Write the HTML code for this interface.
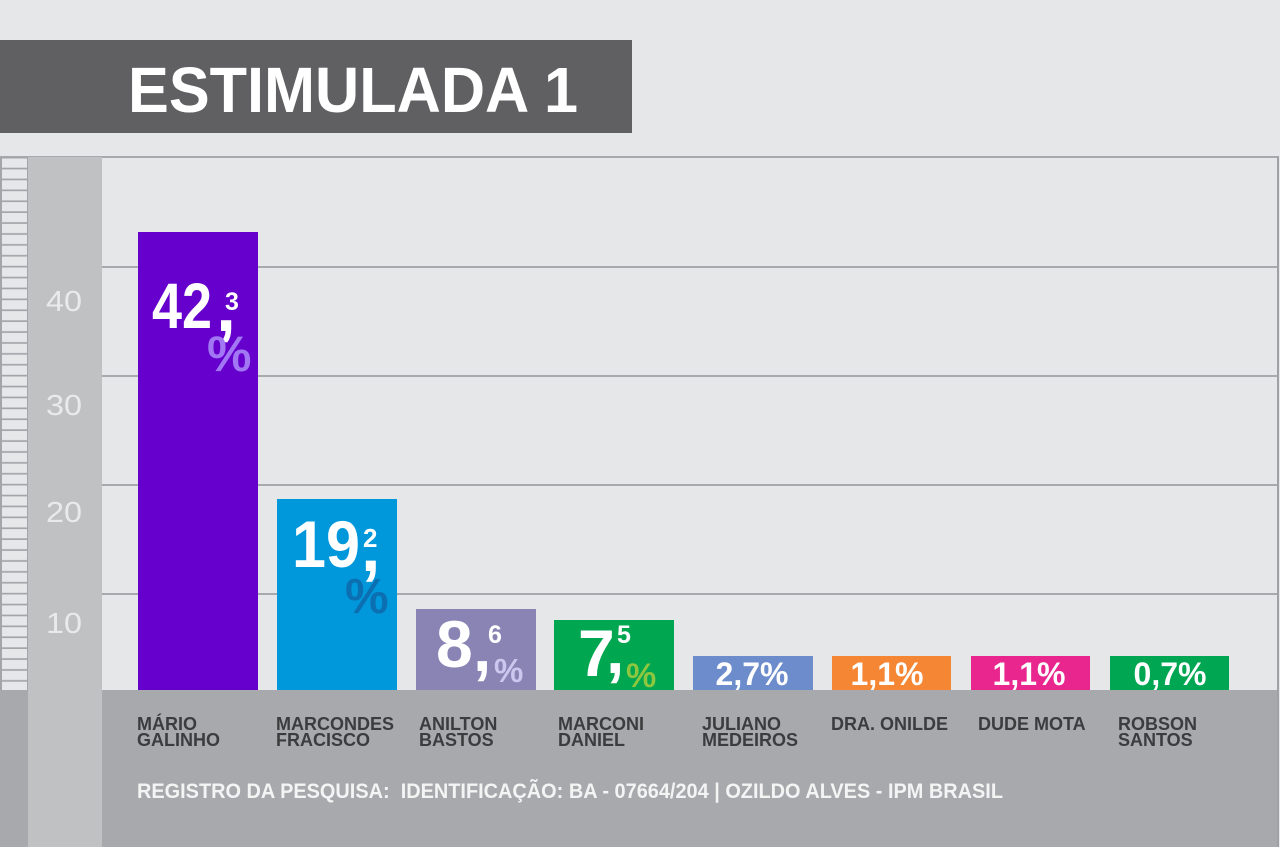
<!DOCTYPE html>
<html><head><meta charset="utf-8"><style>
html,body{margin:0;padding:0;background:#e6e7e8;}
svg{display:block;}
text{font-family:"Liberation Sans",sans-serif;}
</style></head><body>
<svg width="1280" height="847" viewBox="0 0 1280 847" xmlns="http://www.w3.org/2000/svg">
<defs>
<pattern id="r" x="0" y="157" width="28" height="10.9" patternUnits="userSpaceOnUse">
<rect width="28" height="10.9" fill="#a3a5a8"/>
<rect x="2" y="1.5" width="25" height="9.2" fill="#e6e7e9"/>
</pattern>
</defs>
<rect x="0" y="0" width="1280" height="847" fill="#e6e7e8"/>
<!-- title -->
<rect x="0" y="40" width="632" height="93" fill="#606062"/>
<text x="128" y="112" font-size="64" font-weight="bold" fill="#ffffff" textLength="450" lengthAdjust="spacingAndGlyphs">ESTIMULADA 1</text>
<!-- frame -->
<rect x="0" y="156" width="1279" height="2" fill="#a7a9ac"/>
<rect x="0" y="157" width="28" height="533" fill="url(#r)"/>
<rect x="28" y="157" width="74" height="690" fill="#c0c1c3"/>
<rect x="102" y="266" width="1176" height="2" fill="#a7a9ac"/>
<rect x="102" y="375" width="1176" height="2" fill="#a7a9ac"/>
<rect x="102" y="484" width="1176" height="2" fill="#a7a9ac"/>
<rect x="102" y="593" width="1176" height="2" fill="#a7a9ac"/>
<rect x="1277" y="157" width="2" height="690" fill="#9fa1a4"/>
<rect x="0" y="690" width="28" height="157" fill="#a7a9ac"/>
<rect x="102" y="690" width="1175" height="157" fill="#a7a9ac"/>
<!-- axis labels -->
<g fill="#e9eaeb" font-size="29">
<text x="46" y="311" textLength="36" lengthAdjust="spacingAndGlyphs">40</text>
<text x="46" y="415" textLength="36" lengthAdjust="spacingAndGlyphs">30</text>
<text x="46" y="522" textLength="36" lengthAdjust="spacingAndGlyphs">20</text>
<text x="46" y="633" textLength="36" lengthAdjust="spacingAndGlyphs">10</text>
</g>
<!-- bars -->
<rect x="138" y="232" width="120" height="458" fill="#6600cc"/>
<rect x="277" y="499" width="120" height="191" fill="#0098da"/>
<rect x="416" y="609" width="120" height="81" fill="#8a84b4"/>
<rect x="554" y="620" width="120" height="70" fill="#00a650"/>
<rect x="693" y="656" width="120" height="34" fill="#6d8ccc"/>
<rect x="832" y="656" width="119" height="34" fill="#f58634"/>
<rect x="971" y="656" width="119" height="34" fill="#e8268e"/>
<rect x="1110" y="656" width="119" height="34" fill="#00a651"/>
<!-- bar 1 label -->
<g font-weight="bold">
<text x="152" y="328" font-size="64" fill="#ffffff" textLength="60" lengthAdjust="spacingAndGlyphs">42</text>
<text x="225" y="310" font-size="25" fill="#ffffff">3</text>
<text x="216" y="331" font-size="72" fill="#ffffff">,</text>
<text x="207" y="371" font-size="50" fill="#a277f4">%</text>
<!-- bar 2 -->
<text x="292" y="567" font-size="66" fill="#ffffff" textLength="68" lengthAdjust="spacingAndGlyphs">19</text>
<text x="363" y="547" font-size="26" fill="#ffffff">2</text>
<text x="361" y="571" font-size="70" fill="#ffffff">,</text>
<text x="345" y="613" font-size="49" fill="#0c6fb2">%</text>
<!-- bar 3 -->
<text x="436" y="667" font-size="66" fill="#ffffff">8</text>
<text x="488" y="643" font-size="25" fill="#ffffff">6</text>
<text x="473" y="671" font-size="66" fill="#ffffff">,</text>
<text x="494" y="682" font-size="33" fill="#cdc6ef">%</text>
<!-- bar 4 -->
<text x="578" y="676" font-size="66" fill="#ffffff">7</text>
<text x="617" y="643" font-size="25" fill="#ffffff">5</text>
<text x="606" y="673" font-size="66" fill="#ffffff">,</text>
<text x="626" y="687" font-size="34" fill="#8dc63f">%</text>
<!-- small bars -->
<g font-size="32" fill="#ffffff" text-anchor="middle">
<text x="752" y="685">2,7%</text>
<text x="887" y="685">1,1%</text>
<text x="1029" y="685">1,1%</text>
<text x="1170" y="685">0,7%</text>
</g>
</g>
<!-- names -->
<g font-size="18" font-weight="bold" fill="#3b3c3e">
<text x="137" y="730">MÁRIO</text><text x="137" y="746">GALINHO</text>
<text x="276" y="730">MARCONDES</text><text x="276" y="746">FRACISCO</text>
<text x="419" y="730">ANILTON</text><text x="419" y="746">BASTOS</text>
<text x="558" y="730">MARCONI</text><text x="558" y="746">DANIEL</text>
<text x="702" y="730">JULIANO</text><text x="702" y="746">MEDEIROS</text>
<text x="831" y="730">DRA. ONILDE</text>
<text x="978" y="730">DUDE MOTA</text>
<text x="1118" y="730">ROBSON</text><text x="1118" y="746">SANTOS</text>
</g>
<!-- footer -->
<text x="137" y="798" font-size="21" font-weight="bold" fill="#f4f4f4" style="white-space:pre" textLength="866" lengthAdjust="spacingAndGlyphs">REGISTRO DA PESQUISA:  IDENTIFICAÇÃO: BA - 07664/204 | OZILDO ALVES - IPM BRASIL</text>
</svg>
</body></html>
